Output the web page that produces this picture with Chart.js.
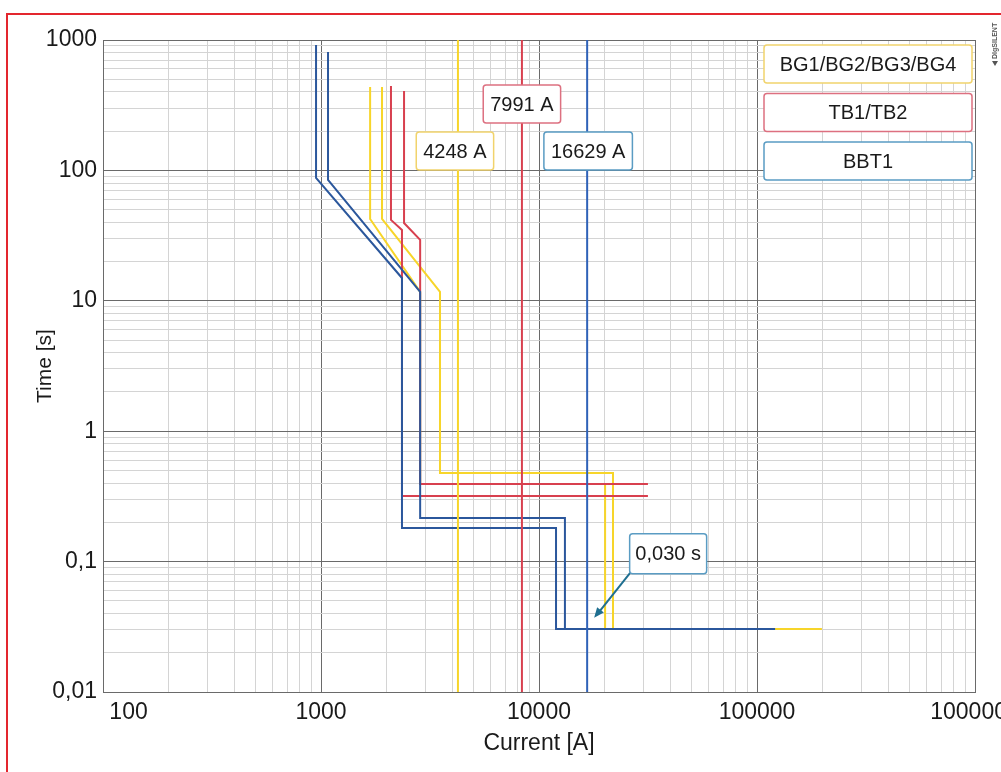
<!DOCTYPE html>
<html>
<head>
<meta charset="utf-8">
<script src="https://cdn.jsdelivr.net/npm/chart.js@4.4.1/dist/chart.umd.min.js"></script>
<style>
  html, body { margin: 0; padding: 0; background: #fff; overflow: hidden; }
  #wrap { position: absolute; left: 0; top: 0; width: 1040px; height: 772px; }
  #frame { position: absolute; left: 6px; top: 13px; width: 1100px; height: 900px;
           border: 2px solid #e3262e; box-sizing: border-box; pointer-events: none; }
</style>
</head>
<body>
<div id="wrap"><canvas id="myChart" width="1040" height="772"></canvas></div>
<div id="frame"></div>
<script>
// tick labels
const xTickValues = [100, 1000, 10000, 100000, 1000000];
const xTickLabels = ['100', '1000', '10000', '100000', '1000000'];
const yTickValues = [0.01, 0.1, 1, 10, 100, 1000];
const yTickLabels = ['0,01', '0,1', '1', '10', '100', '1000'];

// BG1/BG2/BG3/BG4 (two curves)
const bgCurrentA = [1680, 1680, 2850, 2850, 20100, 20100, 198000];
const bgTimeA    = [436, 42.4, 11.7, 0.394, 0.394, 0.0304, 0.0304];
const bgCurrentB = [1905, 1905, 3515, 3515, 21850, 21850, 198000];
const bgTimeB    = [436, 42.4, 11.7, 0.478, 0.478, 0.0304, 0.0304];

// TB1/TB2
const tbCurrentA = [2094, 2094, 2352, 2352, 31600];
const tbTimeA    = [444, 41.7, 34.9, 0.318, 0.318];
const tbCurrentB = [2404, 2404, 2850, 2850, 31600];
const tbTimeB    = [406, 39.5, 29.3, 0.394, 0.394];

// BBT1
const bbtCurrentA = [949, 949, 2352, 2352, 11970, 11970, 121000];
const bbtTimeA    = [915, 87.5, 14.96, 0.181, 0.181, 0.0304, 0.0304];
const bbtCurrentB = [1077, 1077, 2850, 2850, 13150, 13150, 121000];
const bbtTimeB    = [809, 84.4, 11.7, 0.216, 0.216, 0.0304, 0.0304];

// vertical current markers
const markerCurrents = [4248, 8350, 16629];
const markerLabels = ['4248 A', '7991 A', '16629 A'];
const markerTimeSpan = [0.01, 1000];

const legendNames = ['BG1/BG2/BG3/BG4', 'TB1/TB2', 'BBT1'];
const timeNote = '0,030 s';
const timeNoteValue = 0.03;

const YELLOW = '#f7d52a';
const RED = '#d8404f';
const BLUE = '#2b579c';
const MARK_COLORS = ['#f7d52a', '#d8404f', '#2f62b8'];
const BOX_COLORS = ['#f1d36c', '#dd7080', '#5a9cc3'];
const FONT = '"Liberation Sans", Arial, sans-serif';

function pts(xs, ys) {
    return xs.map((x, i) => ({ x: x, y: ys[i] }));
}

function curve(xs, ys, color) {
    return {
        data: pts(xs, ys),
        borderColor: color,
        borderWidth: 2,
        pointRadius: 0,
        tension: 0,
        fill: false
    };
}

function logTicks(lo, hi) {
    const out = [];
    for (let d = lo; d < hi; d *= 10) {
        for (let m = 1; m < 10; m++) out.push({ value: +(m * d).toPrecision(3) });
    }
    out.push({ value: hi });
    return out;
}

function gridColor(vals) {
    return (c) => {
        if (!c.tick) return '#666';
        return vals.indexOf(c.tick.value) >= 0 ? '#6a6a6a' : '#d4d4d4';
    };
}

function box(ctx, cx, cy, w, h, stroke, text) {
    ctx.save();
    ctx.beginPath();
    ctx.roundRect(cx - w / 2, cy - h / 2, w, h, 3);
    ctx.fillStyle = '#fff';
    ctx.fill();
    ctx.lineWidth = 1.5;
    ctx.strokeStyle = stroke;
    ctx.stroke();
    ctx.fillStyle = '#1a1a1a';
    ctx.font = '20px ' + FONT;
    ctx.textAlign = 'center';
    ctx.textBaseline = 'middle';
    ctx.fillText(text, cx, cy + 1);
    ctx.restore();
}

const overlay = {
    id: 'overlay',
    afterDatasetsDraw(chart) {
        const ctx = chart.ctx;
        const xs = chart.scales.x, ys = chart.scales.y;
        ctx.font = '20px ' + FONT;

        // current marker labels
        const labelY = [151, 104, 151];
        const labelDx = [-3, 0, 1];
        markerCurrents.forEach((v, i) => {
            const px = xs.getPixelForValue(v) + labelDx[i];
            const w = ctx.measureText(markerLabels[i]).width + 14;
            box(ctx, px, labelY[i], w, 38, BOX_COLORS[i], markerLabels[i]);
        });

        // legend boxes
        legendNames.forEach((name, i) => {
            box(ctx, 868, 64 + i * 48.5, 208, 38, BOX_COLORS[i], name);
        });

        // 0,030 s note with arrow
        const tipX = xs.getPixelForValue(markerCurrents[2]) + 7;
        const tipY = ys.getPixelForValue(timeNoteValue) - 12;
        const sx = tipX + 36, sy = tipY - 45;
        ctx.save();
        ctx.strokeStyle = '#1f6f90';
        ctx.fillStyle = '#1f6f90';
        ctx.lineWidth = 2;
        ctx.beginPath();
        ctx.moveTo(sx, sy);
        ctx.lineTo(tipX + 5, tipY - 6);
        ctx.stroke();
        const ang = Math.atan2(tipY - sy, tipX - sx);
        ctx.beginPath();
        ctx.moveTo(tipX, tipY);
        ctx.lineTo(tipX - 11 * Math.cos(ang - 0.4), tipY - 11 * Math.sin(ang - 0.4));
        ctx.lineTo(tipX - 11 * Math.cos(ang + 0.4), tipY - 11 * Math.sin(ang + 0.4));
        ctx.closePath();
        ctx.fill();
        ctx.restore();
        box(ctx, sx + 38, sy - 19, 77, 40, BOX_COLORS[2], timeNote);

        // small vendor mark
        ctx.save();
        ctx.translate(995, 66);
        ctx.rotate(-Math.PI / 2);
        ctx.fillStyle = '#555';
        ctx.beginPath();
        ctx.moveTo(0, 0);
        ctx.lineTo(5, -3);
        ctx.lineTo(5, 3);
        ctx.closePath();
        ctx.fill();
        ctx.font = 'bold 7px ' + FONT;
        ctx.textBaseline = 'middle';
        ctx.fillText('DIgSILENT', 7, 0);
        ctx.restore();
    }
};

async function getChart() {
    const ctx = document.getElementById('myChart');

    const datasets = [];
    markerCurrents.forEach((v, i) => {
        datasets.push(curve([v, v], markerTimeSpan, MARK_COLORS[i]));
    });
    datasets.push(curve(bbtCurrentA, bbtTimeA, BLUE));
    datasets.push(curve(bbtCurrentB, bbtTimeB, BLUE));
    datasets.push(curve(tbCurrentA, tbTimeA, RED));
    datasets.push(curve(tbCurrentB, tbTimeB, RED));
    datasets.push(curve(bgCurrentA, bgTimeA, YELLOW));
    datasets.push(curve(bgCurrentB, bgTimeB, YELLOW));

    const chart = new Chart(ctx, {
        type: 'line',
        data: { datasets: datasets },
        plugins: [overlay],
        options: {
            responsive: false,
            animation: false,
            devicePixelRatio: 1,
            layout: {
                autoPadding: false,
                padding: { left: 0, top: 40, right: 65, bottom: 0 }
            },
            plugins: {
                legend: { display: false },
                tooltip: { enabled: false }
            },
            scales: {
                x: {
                    type: 'logarithmic',
                    min: 100,
                    max: 1000000,
                    afterBuildTicks: (s) => { s.ticks = logTicks(100, 1000000); },
                    afterFit: (s) => { s.height = 80; },
                    grid: { color: gridColor(xTickValues), drawTicks: false, lineWidth: 1 },
                    border: { color: '#6a6a6a' },
                    ticks: {
                        autoSkip: false,
                        maxRotation: 0,
                        padding: 7,
                        color: '#1a1a1a',
                        font: { family: FONT, size: 23 },
                        callback: (v, i) => {
                            const k = xTickValues.indexOf(v);
                            if (k < 0) return '';
                            return k === 0 ? '        ' + xTickLabels[k] : xTickLabels[k];
                        }
                    },
                    title: {
                        display: true,
                        text: 'Current [A]',
                        color: '#1a1a1a',
                        font: { family: FONT, size: 23 },
                        padding: { top: 0, bottom: 15 }
                    }
                },
                y: {
                    type: 'logarithmic',
                    min: 0.01,
                    max: 1000,
                    afterBuildTicks: (s) => { s.ticks = logTicks(0.01, 1000); },
                    afterFit: (s) => { s.width = 103; },
                    grid: { color: gridColor(yTickValues), drawTicks: false, lineWidth: 1 },
                    border: { color: '#6a6a6a' },
                    ticks: {
                        autoSkip: false,
                        padding: 6,
                        color: '#1a1a1a',
                        font: { family: FONT, size: 23 },
                        callback: (v) => {
                            const k = yTickValues.indexOf(v);
                            return k < 0 ? '' : yTickLabels[k];
                        }
                    },
                    title: {
                        display: true,
                        text: 'Time [s]',
                        color: '#1a1a1a',
                        font: { family: FONT, size: 21 },
                        padding: { top: 33, bottom: 0 }
                    }
                }
            }
        }
    });
}

getChart();
</script>
</body>
</html>
